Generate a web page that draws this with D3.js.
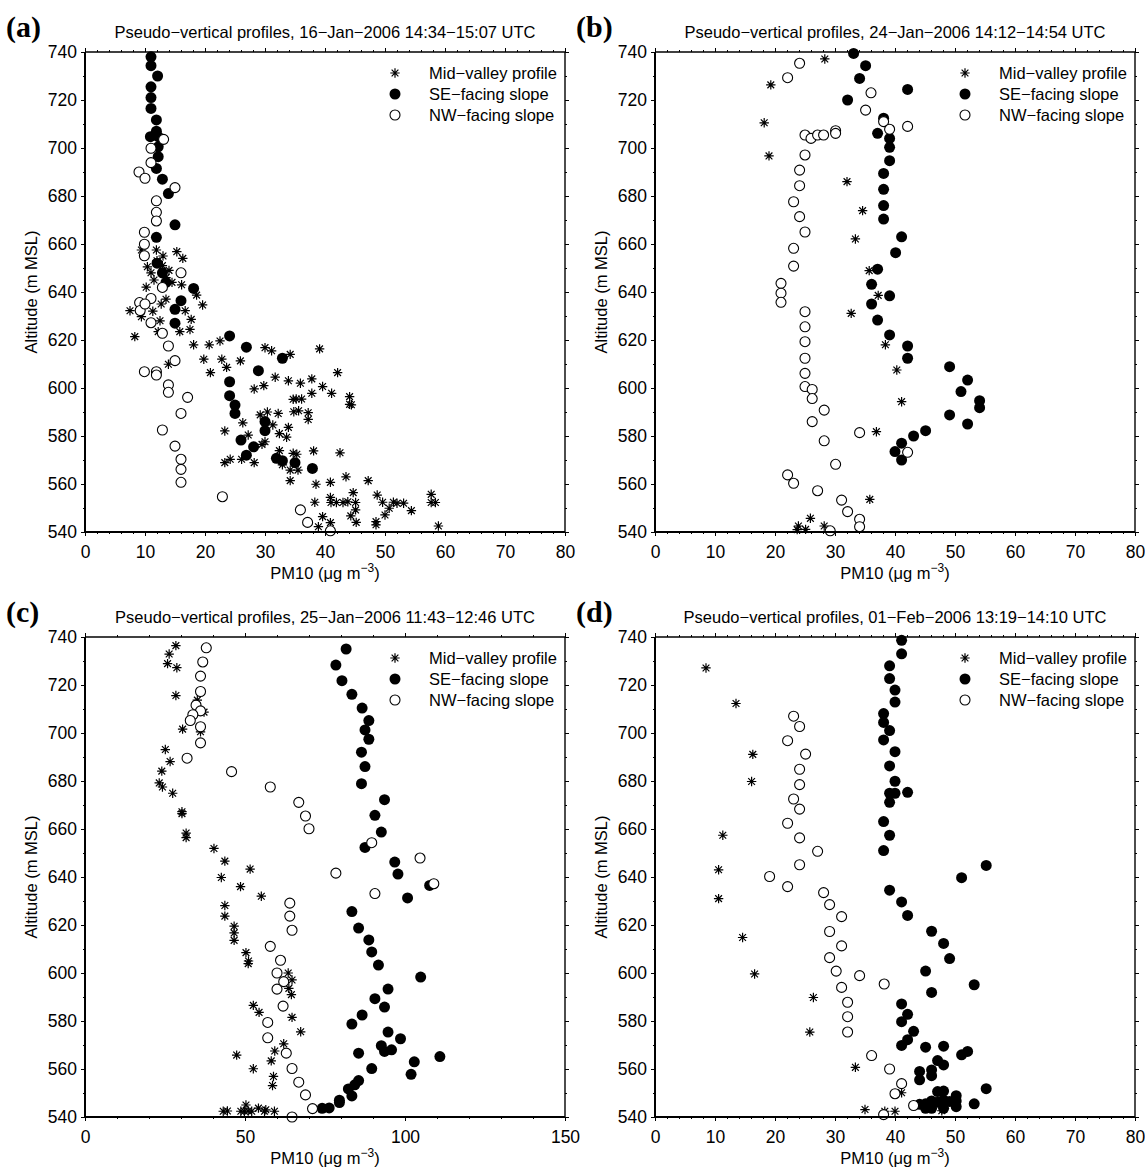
<!DOCTYPE html>
<html>
<head>
<meta charset="utf-8">
<script src="https://cdn.jsdelivr.net/npm/d3@7"></script>
<style>
  body { margin: 0; background: #fff; }
  text { font-family: "Liberation Sans", Arial, sans-serif; fill: #000; }
</style>
</head>
<body>
<div id="chart"></div>
<script>
// Values: [PM10, altitude] pairs for each panel and series.
var aMid = [[9.4,657.5],[10.4,650.5],[15.3,656.8],[16.3,654],[11.9,657.5],[12.9,651],[16.1,643],[18.6,638.7],[10.2,642],
  [11,648],[13.5,646],[14.5,644],[12,653],[13,655],[11.5,645],[14,649],
  [7.5,632.2],[9.4,629.7],[8.3,621.4],[11.3,632],[12.7,635],[13.5,637],[16.7,632.2],[17.7,628.6],[17.5,624.4],[19.6,634.6],
  [15.8,623.5],[12.5,628],[12.2,623.5],[13.9,609.9],[18.1,618],[20.7,618],[22.5,619.6],[19.8,612],[22.8,612],[23.6,608.6],
  [20.9,606.4],[25.9,611.3],[30,616.8],[31.1,615.5],[34.2,614],[31.7,604.5],[33.9,603],[35.9,602],[29.8,601],[28.2,599.6],
  [34.7,595.3],[34.8,590.1],[29.2,588.8],[30.4,590],[32.2,589.4],[33.9,583.6],[33.6,579.5],[32.4,581],[31.3,584.6],[26.3,585.5],
  [27.2,580.4],[23.3,582.1],[30,577.6],[29.5,576.5],[23.3,568.9],[24.2,570.3],[26.1,570.3],[28.2,568.9],[32.4,573.9],[32.9,568],
  [34.7,572.8],[34.2,565.8],[34.2,561.4],[39.1,616.3],[37.8,603.8],[42.1,606.4],[39.6,600.6],[37.8,597.8],[41.1,597.8],[35.2,595.4],
  [36.1,595.4],[44.1,596.4],[44.1,593.2],[44.4,593],[35.6,590.5],[37.2,589.7],[37.2,586.9],[38.1,573.8],[42.5,573],[35.3,572.4],
  [35.5,565.8],[38.5,559.9],[40.9,560.7],[43.5,563],[47.2,561.4],[38.3,552.4],[40.9,554.4],[41,552.3],[41.9,552.3],[43,552.3],
  [43.8,552.6],[44.7,556.4],[45.1,552.3],[45.1,549.2],[44.3,546.7],[45.2,544],[39.6,546.4],[40.9,543.9],[38.9,542.2],[48.7,555.4],
  [49.6,552.4],[50,547.1],[50.7,549.9],[51.4,552.4],[52,552],[53.1,552],[48.5,544.3],[48.5,543],[54.4,548.9],[57.7,555.7],
  [57.7,552.3],[58.4,552.3],[58.9,542.5]];
var aSE = [[11,738],[11,734.3],[12.1,730],[11,725.5],[11,721],[11,716.5],[11.9,711.7],[11.9,707],[10.9,704.7],[12.2,704.7],
  [12.2,700.5],[12.2,696.4],[11.9,691.5],[12.9,687],[13.9,681],[15,668],[11.9,662.8],[12.9,648],[12,652],[13.5,644],
  [18.1,641.5],[16,636.4],[15,632.8],[15,627],[24.1,621.7],[26.9,617],[32.9,612.4],[28.9,607.2],[24.1,602.6],[24.1,596.8],
  [25,592.9],[25,589.4],[30,586],[30,582.2],[26,578.3],[28.1,575.5],[26.9,572],[31.9,570.7],[32.9,569.7],[35,568.9],[37.9,566.5]];
var aNW = [[13.1,703.6],[11,699.9],[11,693.9],[9,690],[10,687.4],[15,683.5],[11.9,678],[11.9,673.2],[11.9,669.6],[9.9,664.9],
  [9.9,659.9],[9.9,655.1],[16,648],[12.9,641.9],[9.1,635.6],[9.2,632.3],[11,637.3],[10,635],[11,627.2],[12.9,622.8],
  [13.9,617.5],[15,611.4],[9.9,606.8],[11.9,606.8],[11.9,605.4],[13.9,601.3],[13.9,598.2],[17.1,596.1],[16,589.4],[12.9,582.5],
  [15,575.8],[16,570.3],[16,566.1],[16,560.7],[22.9,554.7],[35.9,549.2],[37.1,544],[40.9,540.5]];

var bMid = [[28.3,737.1],[19.3,726.3],[18.2,710.5],[19,696.7],[32,686],[34.6,673.9],[33.4,662.1],[35.7,648.9],[37.2,638.6],
  [32.7,631.1],[38.4,618],[40.3,607.5],[41.1,594.3],[36.9,581.8],[35.8,553.6],[23.9,542.5],[23.7,541],[25.1,541.1],
  [25.9,545.7],[28.2,542.5]];
var bSE = [[33.1,739.4],[35.1,734.3],[34.1,729],[32.1,720],[42.1,724.4],[38.1,712.4],[37.1,706.1],[39.1,704],[39.1,700.3],
  [39.1,694.7],[38.1,689.4],[38.1,682.8],[38.1,676],[38.1,670.4],[41.1,663],[40.1,656.4],[37.1,649.5],[36.1,643.2],[39.1,638.4],
  [36.1,635],[37.1,628.3],[39.1,622.1],[42.1,617.5],[42.1,612.4],[49.1,608.9],[52.1,603.3],[51,598.5],[54.1,594.7],[54.1,591.8],
  [49.1,588.8],[52.1,585],[45.1,582.2],[43.1,580],[41.1,577],[40,573.5],[41.1,570]];
var bNW = [[24.1,735.3],[22.1,729.3],[36,723],[35.1,715.8],[38.1,711],[39.1,707.8],[42.1,709],[25,705.4],[26,704],[27.1,705.4],
  [28.1,705.4],[30.1,707.2],[30.1,706.1],[25,697.1],[24.1,690.8],[24.1,684.3],[23.1,677.6],[24.1,671.4],[25,665],[23.1,658.2],
  [23.1,650.8],[21,643.6],[21,639.5],[21,635.7],[25,631.8],[25,625.5],[25,619.3],[25,612.4],[25,606.1],[25,600.6],
  [26.2,599.4],[26.2,595.6],[28.2,590.8],[26.2,586],[28.2,578],[34.1,581.4],[42.1,573.2],[30.1,568.2],[22.1,563.8],[23.1,560.3],
  [27.1,557.2],[31.1,553.3],[32.1,548.5],[34.1,545.3],[34.1,542.2],[29.2,540.5]];

var cMid = [[28.4,736.4],[26.3,732.9],[25.8,728.9],[28.7,727.2],[28.4,715.6],[35.1,713.7],[37.2,708.7],[36.1,700.5],[30.5,701.6],
  [25.1,693.1],[26.6,688.1],[24,684.1],[23.2,679.2],[24.2,677.5],[27.4,674.9],[30.3,667.2],[30.3,666.4],[31.6,658.3],[31.6,656.4],
  [40.3,651.9],[43.7,646.6],[51.6,643.3],[42.6,639.8],[48.6,636],[55.1,632],[43.7,628.1],[43.7,623.7],[46.6,619.5],[46.6,616.7],
  [46.6,613.6],[50.3,608.5],[51.1,605],[51,603.9],[63.5,600],[64.7,597.1],[63.7,593.6],[64.5,591],[52.6,586.5],[54.4,583.6],
  [64.7,581.5],[67.4,575.5],[62.1,570.5],[59.3,567.5],[58.2,563.4],[47.4,565.8],[52.6,560.1],[58.9,556.9],[58.6,553.1],
  [43.2,542.4],[44.5,542.5],[48.7,542.4],[49.8,542.4],[50.3,545],[51,542.5],[52.1,542.4],[54.2,543.7],[56.1,542.4],[56.5,543],
  [59.2,542.4]];
var cSE = [[81.6,735],[78.4,728.3],[80.3,721.8],[83.4,716.1],[86.6,710.4],[88.7,705.2],[87.5,701.3],[88.7,697.4],[86.4,692],
  [87.5,686],[86.4,678.9],[93.6,672.2],[90.6,665.7],[92.6,658.7],[87.5,652.3],[96.8,646.2],[97.8,641.2],[107.7,636.5],[100.8,631.3],
  [83.4,625.6],[85.5,618.7],[88.7,613.8],[89.6,608.8],[91.7,603.3],[104.9,598.3],[94.7,593.3],[90.6,589.3],[93.6,585.8],[86.6,582.5],
  [83.4,578.7],[94.7,575.4],[98.6,572.6],[92.6,569.7],[93.6,567.3],[95.8,568],[110.9,565.2],[85.5,566.6],[102.9,563],[89.6,560.2],
  [101.9,557.8],[85.5,555.2],[84.3,553.4],[82.3,551.7],[83.4,548.8],[79.5,547],[79.5,546],[76.3,543.8],[74.1,543.6]];
var cNW = [[37.9,735.5],[36.8,729.6],[36.1,723.7],[36.1,717.3],[34.7,711.6],[36.1,709.2],[33.7,707.6],[32.9,705.2],[36.1,702.6],
  [36.1,695.9],[31.9,689.5],[45.8,683.9],[57.9,677.5],[66.8,671.1],[68.9,665.4],[70,660.1],[89.6,654.3],[104.7,647.9],[78.4,641.6],
  [109,637.2],[90.6,633.1],[64,629.1],[64,623.7],[64.7,617.8],[57.9,611.1],[61.1,605.3],[60,600],[62.1,596.4],[60,593.3],
  [61.9,586.2],[57.1,579.4],[57.1,573],[62.9,566.6],[64.7,560.2],[66.8,554.5],[68.9,549.2],[71.1,543.5],[64.7,540]];

var dMid = [[8.5,727.1],[13.5,712.3],[16.3,691.1],[16.1,679.8],[11.3,657.4],[10.6,643],[10.6,631],[14.6,614.8],[16.6,599.6],
  [26.4,589.8],[25.8,575.4],[33.4,560.7],[35,543.1],[38.3,542.4],[40,542.4],[41.1,550.1],[47.8,542.6]];
var dSE = [[41.1,738.6],[41.1,733],[39.1,728],[39.1,722.7],[40,717.9],[40,712.9],[38.1,708.1],[38.1,704.4],[39.1,701],[38.1,697.1],
  [40,692.2],[39.1,686.3],[40,679.9],[39.1,674.9],[40,674.9],[42.1,675.3],[39.1,671.1],[38.1,663.1],[39.1,657.4],[38.1,651],
  [55.2,644.8],[51.1,639.7],[39.1,634.5],[41.1,629.6],[42.1,624],[46.1,617.4],[48.1,612.3],[49.1,606],[45.1,600.8],[53.2,595.1],
  [46.1,591.9],[41.1,587.1],[42.1,582.8],[41.1,579.7],[43.1,575.7],[42.1,572.2],[41.1,569.8],[45.1,569.1],[48.1,569.5],[51.1,565.9],
  [52.1,567.3],[47.1,563.5],[48.1,561.7],[44.1,559],[46.1,559.6],[46.1,557.2],[44.1,555.5],[55.2,551.8],[47.1,550.6],[48.1,550.8],
  [50.2,548.9],[50.2,546.7],[50.2,544.3],[53.2,545.5],[44.1,545.3],[45.1,545.5],[46.1,546.7],[46.1,543.6],[47.1,546.1],[48.1,543.6],
  [49.1,546.5],[48.1,547],[45.1,543.6]];
var dNW = [[23.1,707],[24.1,702.7],[22.1,696.8],[25.1,691.2],[24.1,684.9],[24.1,678.5],[23.1,672.5],[24.1,668.3],[22.1,662.4],
  [24.1,656.3],[27.1,650.7],[24.1,645.1],[19.1,640.2],[22.1,636],[28.1,633.5],[29.1,628.5],[31.1,623.5],[29.1,617.3],[31.1,611.3],
  [29.1,606.4],[30.2,600.8],[34.1,598.9],[38.2,595.4],[31.1,594],[32.1,587.8],[32.1,581.8],[32.1,575.4],[36.1,565.6],[39.1,560],
  [41.1,553.9],[40,549.7],[43.1,544.8],[38.1,541]];

// Tick labels and titles.
var altTicks = [540, 560, 580, 600, 620, 640, 660, 680, 700, 720, 740];
var pmTicks80 = [0, 10, 20, 30, 40, 50, 60, 70, 80];
var pmTicks150 = [0, 50, 100, 150];
var letters = ['(a)', '(b)', '(c)', '(d)'];
var periods = ['16\u2212Jan\u22122006 14:34\u221215:07 UTC', '24\u2212Jan\u22122006 14:12\u221214:54 UTC',
  '25\u2212Jan\u22122006 11:43\u221212:46 UTC', '01\u2212Feb\u22122006 13:19\u221214:10 UTC'];
var seriesNames = ['Mid\u2212valley profile', 'SE\u2212facing slope', 'NW\u2212facing slope'];

var panels = [
  {left: 85, top: 52, ticks: pmTicks80, minor: 2, data: [aMid, aSE, aNW]},
  {left: 655, top: 52, ticks: pmTicks80, minor: 2, data: [bMid, bSE, bNW]},
  {left: 85, top: 637, ticks: pmTicks150, minor: 10, data: [cMid, cSE, cNW]},
  {left: 655, top: 637, ticks: pmTicks80, minor: 2, data: [dMid, dSE, dNW]}
];

var size = 480;
var svg = d3.select('#chart').append('svg')
    .attr('width', 1145)
    .attr('height', 1167);

// Asterisk marker: plus and cross together.
function star(r) {
    var d = r * 0.72;
    return 'M' + (-r) + ',0H' + r + 'M0,' + (-r) + 'V' + r +
        'M' + (-d) + ',' + (-d) + 'L' + d + ',' + d + 'M' + (-d) + ',' + d + 'L' + d + ',' + (-d);
}

function drawMarks(sel, kind) {
    if (kind === 0) {
        sel.append('path').attr('d', star(4.7))
            .attr('fill', 'none').attr('stroke', '#000').attr('stroke-width', 1.2);
    } else if (kind === 1) {
        sel.append('circle').attr('r', 5.5).attr('fill', '#000');
    } else {
        sel.append('circle').attr('r', 5)
            .attr('fill', '#fff').attr('stroke', '#000').attr('stroke-width', 1.1);
    }
}

panels.forEach(function (p, i) {
    var g = svg.append('g').attr('transform', 'translate(' + p.left + ',' + p.top + ')');
    var xMax = p.ticks[p.ticks.length - 1];
    var x = d3.scaleLinear().domain([0, xMax]).range([0, size]);
    var y = d3.scaleLinear().domain([540, 740]).range([size, 0]);
    var xMinor = d3.range(0, xMax + 0.001, p.minor);
    var yMinor = d3.range(540, 741, 10);

    // Minor ticks on all four sides.
    g.append('g').attr('transform', 'translate(0,' + size + ')')
        .call(d3.axisBottom(x).tickValues(xMinor).tickSize(2).tickFormat(''));
    g.append('g').call(d3.axisTop(x).tickValues(xMinor).tickSize(2).tickFormat(''));
    g.append('g').call(d3.axisLeft(y).tickValues(yMinor).tickSize(2).tickFormat(''));
    g.append('g').attr('transform', 'translate(' + size + ',0)')
        .call(d3.axisRight(y).tickValues(yMinor).tickSize(2).tickFormat(''));

    // Major ticks and labels.
    g.append('g').attr('class', 'lab').attr('transform', 'translate(0,' + size + ')')
        .call(d3.axisBottom(x).tickValues(p.ticks).tickSize(4).tickPadding(10));
    g.append('g').call(d3.axisTop(x).tickValues(p.ticks).tickSize(4).tickFormat(''));
    g.append('g').attr('class', 'lab')
        .call(d3.axisLeft(y).tickValues(altTicks).tickSize(4).tickPadding(4));
    g.append('g').attr('transform', 'translate(' + size + ',0)')
        .call(d3.axisRight(y).tickValues(altTicks).tickSize(4).tickFormat(''));

    g.selectAll('.domain').remove();
    g.selectAll('.tick line').attr('stroke', '#000').attr('stroke-width', 1);
    g.selectAll('.lab').attr('font-size', 17.5).attr('font-family', null);

    // Data points: mid-valley, then SE slope, then NW slope on top.
    p.data.forEach(function (series, k) {
        var pts = g.append('g').selectAll('g.pt')
            .data(series)
            .enter()
            .append('g')
            .attr('transform', function (d) {return 'translate(' + x(d[0]) + ',' + y(d[1]) + ')';});
        drawMarks(pts, k);
    });

    // Frame.
    g.append('line').attr('x1', 0).attr('x2', 0).attr('y1', 0).attr('y2', size)
        .attr('stroke', '#000').attr('stroke-width', 2);
    g.append('line').attr('x1', 0).attr('x2', size).attr('y1', size).attr('y2', size)
        .attr('stroke', '#000').attr('stroke-width', 2);
    g.append('line').attr('x1', 0).attr('x2', size).attr('y1', 0).attr('y2', 0)
        .attr('stroke', '#000').attr('stroke-width', 1.4);
    g.append('line').attr('x1', size).attr('x2', size).attr('y1', 0).attr('y2', size)
        .attr('stroke', '#000').attr('stroke-width', 1.4);

    // Legend.
    seriesNames.forEach(function (name, k) {
        var ly = 21 + k * 21;
        var m = g.append('g').attr('transform', 'translate(' + (size - 170) + ',' + ly + ')');
        drawMarks(m, k);
        g.append('text')
            .attr('x', size - 136)
            .attr('y', ly)
            .attr('dy', '0.35em')
            .attr('font-size', 16.5)
            .text(name);
    });

    // Title and panel letter.
    g.append('text')
        .attr('x', size / 2)
        .attr('y', -14)
        .attr('text-anchor', 'middle')
        .attr('font-size', 16.5)
        .text('Pseudo\u2212vertical profiles, ' + periods[i]);
    svg.append('text')
        .attr('x', p.left - 79)
        .attr('y', p.top - 15)
        .attr('font-size', 30)
        .attr('font-weight', 'bold')
        .style('font-family', '"Liberation Serif", "Times New Roman", serif')
        .text(letters[i]);

    // Axis titles.
    g.append('text')
        .attr('transform', 'translate(-48,' + (size / 2) + ') rotate(-90)')
        .attr('text-anchor', 'middle')
        .attr('font-size', 16.5)
        .text('Altitude (m MSL)');
    var xl = g.append('text')
        .attr('x', size / 2)
        .attr('y', size + 47)
        .attr('text-anchor', 'middle')
        .attr('font-size', 16.5);
    xl.append('tspan').text('PM10 (\u03bcg m');
    xl.append('tspan').attr('dy', -7).attr('font-size', 12).text('\u22123');
    xl.append('tspan').attr('dy', 7).text(')');
});
</script>
</body>
</html>
